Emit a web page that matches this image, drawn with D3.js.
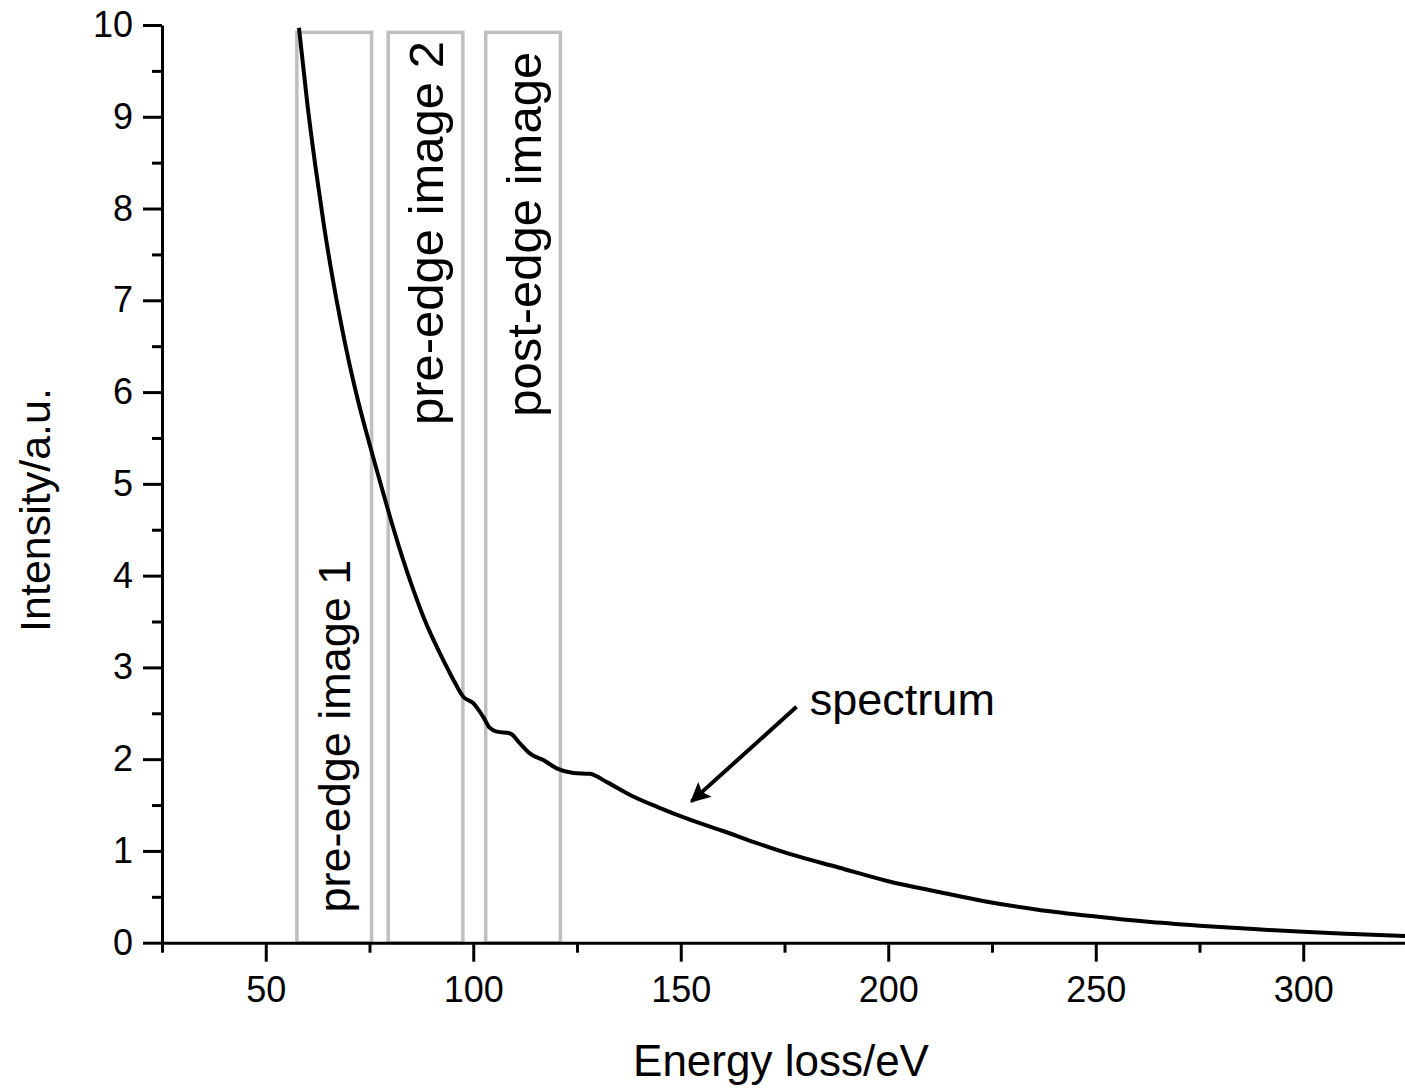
<!DOCTYPE html>
<html><head><meta charset="utf-8">
<script src="https://cdn.jsdelivr.net/npm/d3@7"></script>
<style>body{margin:0;background:#fff}svg{display:block}</style>
</head><body>
<svg id="c" width="1405" height="1089"></svg>
<script>
// Data
const energy = [58,60,62,64,66,68,70,72,74,76,78,80,82,84,86,88,90,92,94,95.5,97.6,100,102.4,104,105.7,108.9,111.3,113.7,116.9,120.1,124.1,128.1,132.2,137.8,144.3,152.2,160,168,176,188,200,212.5,222.8,236,250,262,275,288,300,312,325];
const intensity = [9.97,9.15,8.45,7.82,7.27,6.78,6.34,5.95,5.6,5.27,4.95,4.63,4.33,4.05,3.79,3.55,3.34,3.15,2.97,2.84,2.68,2.61,2.46,2.34,2.30,2.28,2.17,2.06,1.99,1.90,1.85,1.84,1.75,1.61,1.48,1.34,1.22,1.09,0.97,0.82,0.67,0.55,0.455,0.36,0.285,0.23,0.185,0.148,0.118,0.095,0.073];
const boxNames = ["pre-edge image 1","pre-edge image 2","post-edge image"];
const boxStart = [57.5,79.5,103];
const boxEnd = [75.5,97.5,121];
const boxTop = 9.92;
const boxLabelStart = [0.33,5.64,5.73];
const boxLabelSize = [45,49,49];
const xMajorTicks = [50,100,150,200,250,300];
const xMinorTicks = [25,75,125,175,225,275,325];
const yMajorTicks = [0,1,2,3,4,5,6,7,8,9,10];
const yMinorTicks = [0.5,1.5,2.5,3.5,4.5,5.5,6.5,7.5,8.5,9.5];
const annotText = "spectrum";
const annotTextPos = [181.1, 2.48];
const arrowFrom = [177.9, 2.57];
const arrowTo = [152.6, 1.54];

const svg = d3.select("#c");
const font = "'Liberation Sans', Arial, Helvetica, sans-serif";
const x = d3.scaleLinear().domain([25,325]).range([162,1407]);
const y = d3.scaleLinear().domain([0,10]).range([942.7,25]);

// boxes
const bg = svg.append("g");
boxNames.forEach((n,i)=>{
  bg.append("rect")
    .attr("x", x(boxStart[i])).attr("y", y(boxTop))
    .attr("width", x(boxEnd[i]) - x(boxStart[i]))
    .attr("height", y(0) - y(boxTop))
    .attr("fill","none").attr("stroke","#bfbfbf").attr("stroke-width",3.5);
  const cx = (x(boxStart[i]) + x(boxEnd[i]))/2 + 0.36*boxLabelSize[i];
  const cy = y(boxLabelStart[i]);
  bg.append("text")
    .attr("transform", `translate(${cx},${cy}) rotate(-90)`)
    .attr("font-family", font).attr("font-size", boxLabelSize[i])
    .attr("fill","#000").text(n);
});

// curve
const pts = energy.map((e,i)=>[e,intensity[i]]);
svg.append("path").datum(pts)
  .attr("d", d3.line().x(d=>x(d[0])).y(d=>y(d[1])).curve(d3.curveMonotoneX))
  .attr("fill","none").attr("stroke","#000").attr("stroke-width",4)
  .attr("stroke-linejoin","round");

// axes
svg.append("g").attr("transform",`translate(0,${y(0)})`)
  .call(d3.axisBottom(x).tickValues(xMajorTicks).tickSize(19).tickSizeOuter(0).tickPadding(15).tickFormat(d3.format("d")));
svg.append("g").attr("transform",`translate(0,${y(0)})`)
  .call(d3.axisBottom(x).tickValues(xMinorTicks).tickSize(10).tickSizeOuter(0).tickFormat(""))
  .call(g=>g.select(".domain").remove());
svg.append("g").attr("transform",`translate(${x(25)},0)`)
  .call(d3.axisLeft(y).tickValues(yMajorTicks).tickSize(19).tickSizeOuter(0).tickPadding(10).tickFormat(d3.format("d")));
svg.append("g").attr("transform",`translate(${x(25)},0)`)
  .call(d3.axisLeft(y).tickValues(yMinorTicks).tickSize(10).tickSizeOuter(0).tickFormat(""))
  .call(g=>g.select(".domain").remove());
svg.selectAll(".domain").attr("stroke","#000").attr("stroke-width",3);
svg.selectAll(".tick line").attr("stroke","#000").attr("stroke-width",3);
svg.selectAll(".tick text").attr("font-family",font).attr("font-size",36).attr("fill","#000");

// axis titles
svg.append("text").attr("x",781).attr("y",1076).attr("text-anchor","middle")
  .attr("font-family",font).attr("font-size",44).text("Energy loss/eV");
svg.append("text").attr("transform","translate(50,510) rotate(-90)").attr("text-anchor","middle")
  .attr("font-family",font).attr("font-size",43).text("Intensity/a.u.");

// annotation
svg.append("defs").append("marker").attr("id","ah")
  .attr("viewBox","0 0 10 10").attr("refX",9).attr("refY",5)
  .attr("markerWidth",5.5).attr("markerHeight",5).attr("markerUnits","strokeWidth")
  .attr("orient","auto").append("path").attr("d","M0,0 L10,5 L0,10 L2,5 Z").attr("fill","#000");
svg.append("line")
  .attr("x1",x(arrowFrom[0])).attr("y1",y(arrowFrom[1]))
  .attr("x2",x(arrowTo[0])).attr("y2",y(arrowTo[1]))
  .attr("stroke","#000").attr("stroke-width",4).attr("marker-end","url(#ah)");
svg.append("text").attr("x",x(annotTextPos[0])).attr("y",y(annotTextPos[1]))
  .attr("font-family",font).attr("font-size",45).text(annotText);
</script>
</body></html>
